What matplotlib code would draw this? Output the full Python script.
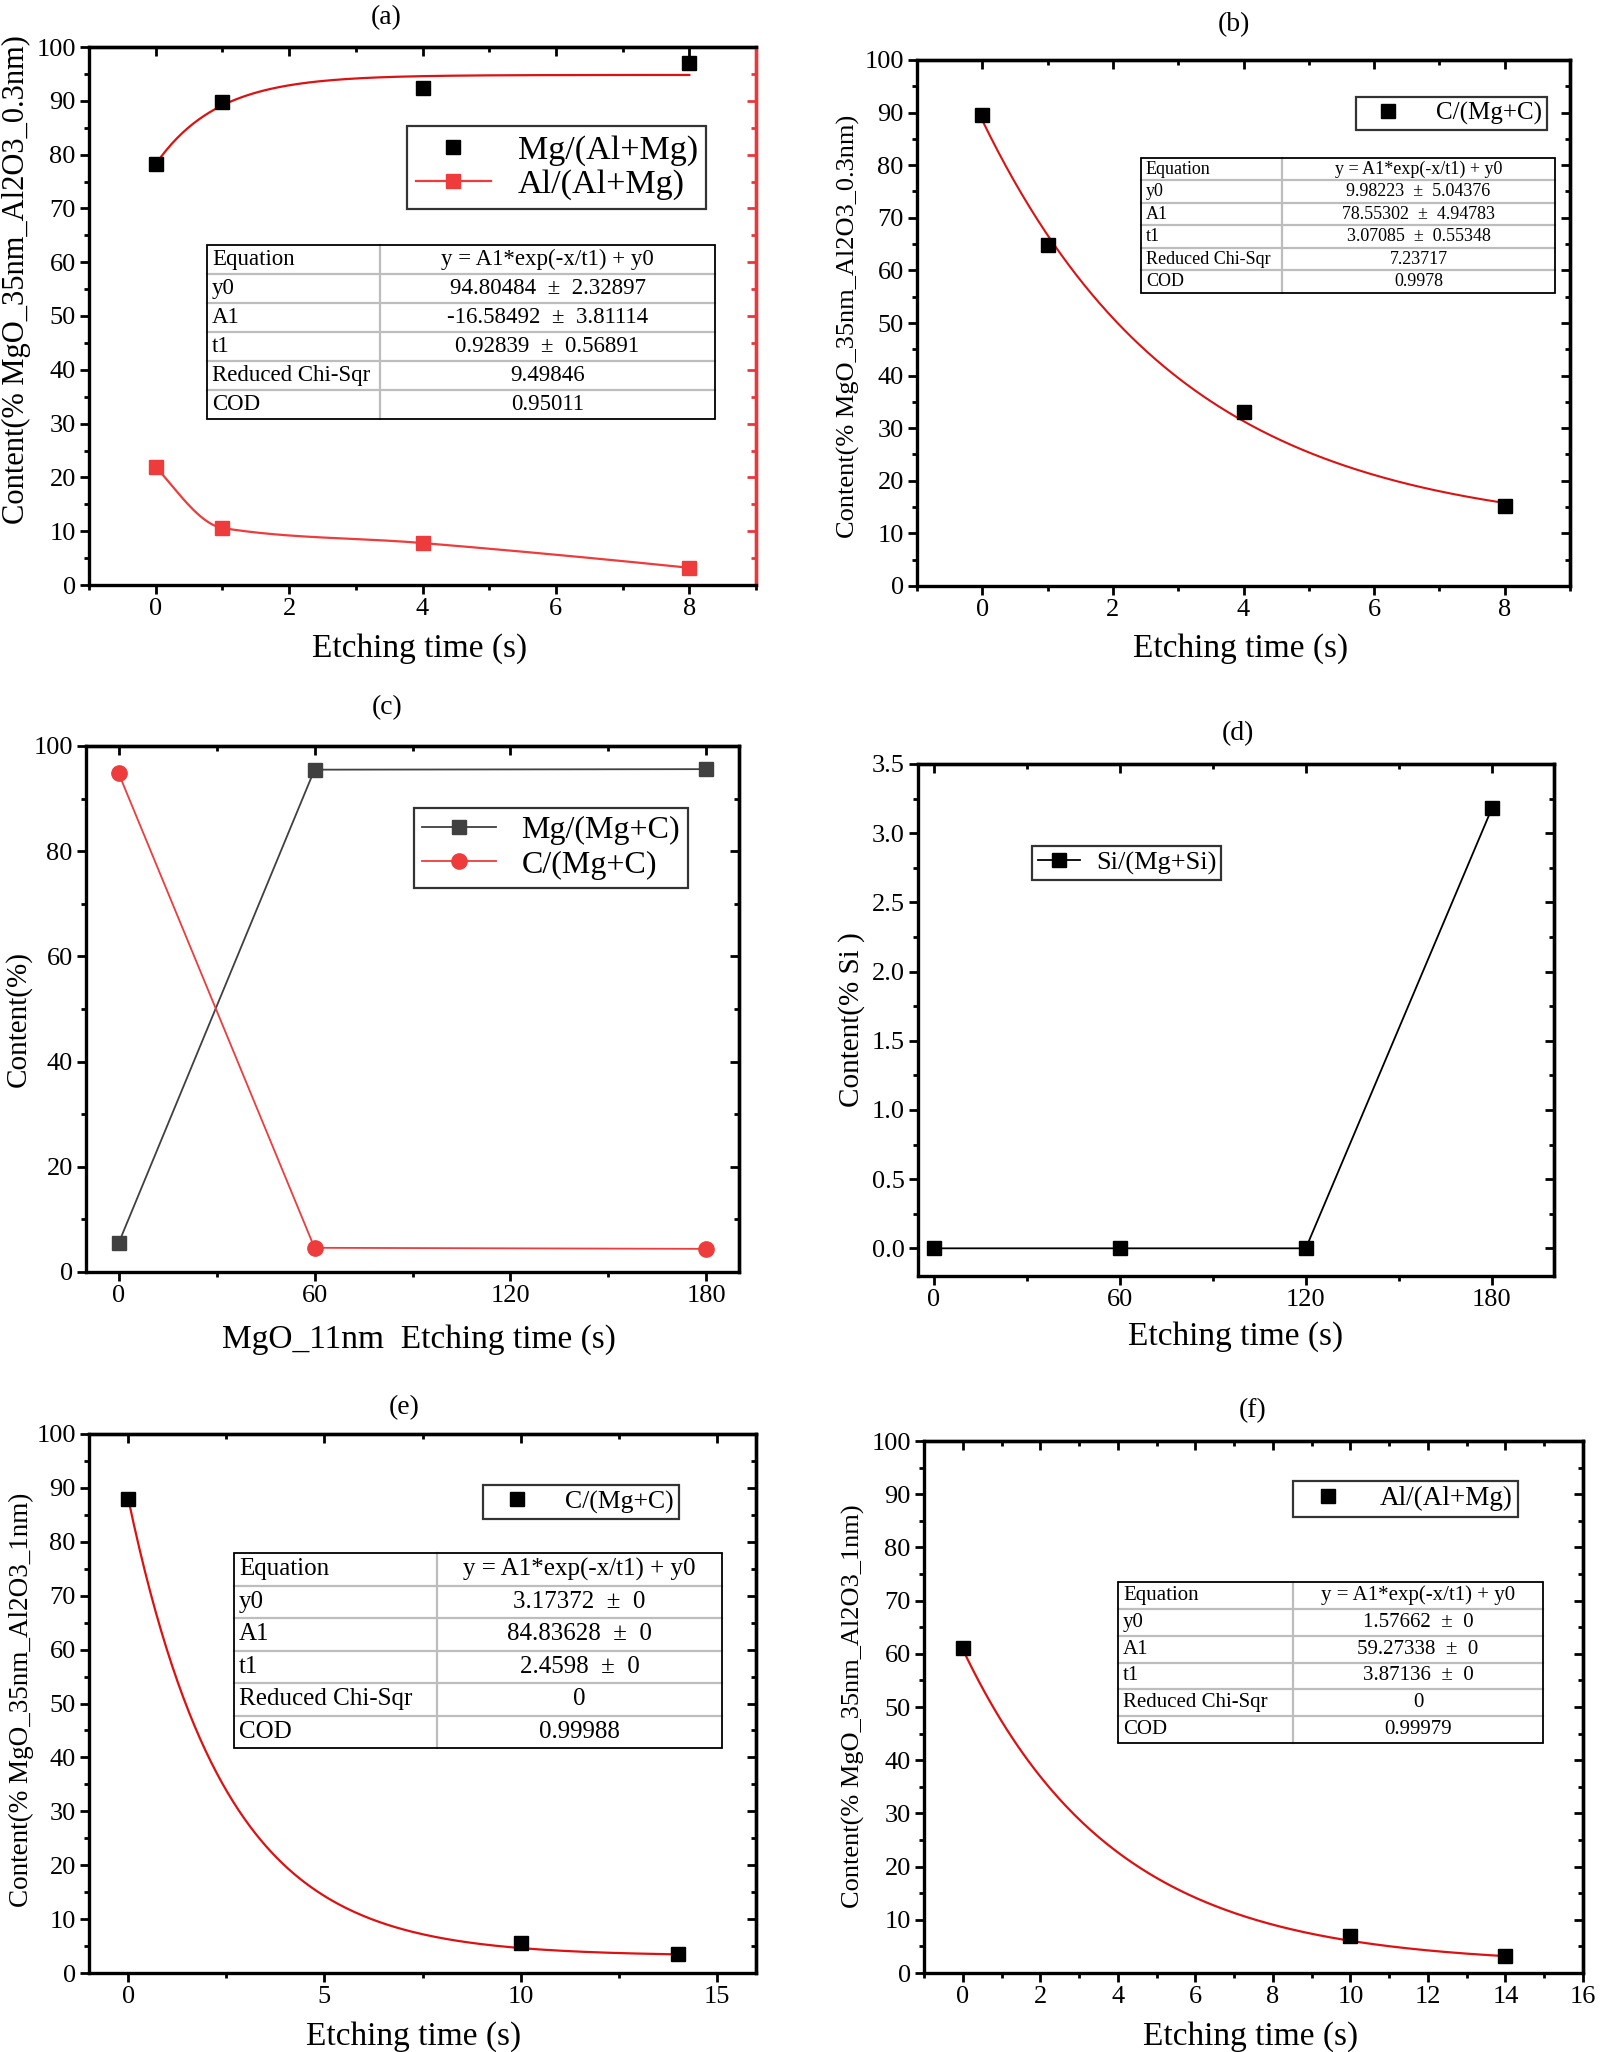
import numpy as np
import matplotlib
matplotlib.use("Agg")
import matplotlib.pyplot as plt
from matplotlib.lines import Line2D
from matplotlib.patches import Rectangle

plt.rcParams['font.family'] = ['Liberation Serif', 'DejaVu Sans']

W, H = 1600, 2052

# ---- data ----
a_x = [0, 1, 4, 8]
a_mg = [78.2, 89.7, 92.4, 97.0]
a_al = [22.0, 10.6, 7.8, 3.2]
a_fit = (94.80484, -16.58492, 0.92839)  # y0, A1, t1
a_rows = [("Equation", "y = A1*exp(-x/t1) + y0"),
          ("y0", "94.80484  ±  2.32897"),
          ("A1", "-16.58492  ±  3.81114"),
          ("t1", "0.92839  ±  0.56891"),
          ("Reduced Chi-Sqr", "9.49846"),
          ("COD", "0.95011")]

b_x = [0, 1, 4, 8]
b_c = [89.6, 64.9, 33.1, 15.2]
b_fit = (9.98223, 78.55302, 3.07085)
b_rows = [("Equation", "y = A1*exp(-x/t1) + y0"),
          ("y0", "9.98223  ±  5.04376"),
          ("A1", "78.55302  ±  4.94783"),
          ("t1", "3.07085  ±  0.55348"),
          ("Reduced Chi-Sqr", "7.23717"),
          ("COD", "0.9978")]

c_x = [0, 60, 180]
c_mg = [5.5, 95.5, 95.6]
c_c = [94.8, 4.6, 4.4]

d_x = [0, 60, 120, 180]
d_si = [0.0, 0.0, 0.0, 3.18]

e_x = [0, 10, 14]
e_c = [87.9, 5.6, 3.6]
e_fit = (3.17372, 84.83628, 2.4598)
e_rows = [("Equation", "y = A1*exp(-x/t1) + y0"),
          ("y0", "3.17372  ±  0"),
          ("A1", "84.83628  ±  0"),
          ("t1", "2.4598  ±  0"),
          ("Reduced Chi-Sqr", "0"),
          ("COD", "0.99988")]

f_x = [0, 10, 14]
f_al = [61.0, 6.9, 3.2]
f_fit = (1.57662, 59.27338, 3.87136)
f_rows = [("Equation", "y = A1*exp(-x/t1) + y0"),
          ("y0", "1.57662  ±  0"),
          ("A1", "59.27338  ±  0"),
          ("t1", "3.87136  ±  0"),
          ("Reduced Chi-Sqr", "0"),
          ("COD", "0.99979")]

RED = '#ee3b3b'
FITRED = '#dd1111'
GRAY = '#404040'


def pchip(x, y, xs):
    x = np.asarray(x, float)
    y = np.asarray(y, float)
    h = np.diff(x)
    d = np.diff(y) / h
    m = np.zeros_like(y)
    for k in range(1, len(x) - 1):
        if d[k - 1] * d[k] > 0:
            w1 = 2 * h[k] + h[k - 1]
            w2 = h[k] + 2 * h[k - 1]
            m[k] = (w1 + w2) / (w1 / d[k - 1] + w2 / d[k])
    m[0] = ((2 * h[0] + h[1]) * d[0] - h[0] * d[1]) / (h[0] + h[1])
    m[-1] = ((2 * h[-1] + h[-2]) * d[-1] - h[-1] * d[-2]) / (h[-1] + h[-2])
    out = np.empty_like(xs)
    for i, xv in enumerate(xs):
        k = min(np.searchsorted(x, xv, side='right') - 1, len(x) - 2)
        t = (xv - x[k]) / h[k]
        h00 = 2 * t**3 - 3 * t**2 + 1
        h10 = t**3 - 2 * t**2 + t
        h01 = -2 * t**3 + 3 * t**2
        h11 = t**3 - t**2
        out[i] = h00 * y[k] + h10 * h[k] * m[k] + h01 * y[k + 1] + h11 * h[k] * m[k + 1]
    return out


fig = plt.figure(figsize=(16, 20.52), dpi=100)


def make_axes(box, xlim, ylim, xmaj, xmin, ymaj, ymin, right_color='black', tsize=19):
    L, R, T, B = box
    ax = fig.add_axes([L / W, 1 - B / H, (R - L) / W, (B - T) / H])
    ax.box_px = box
    ax.set_xlim(*xlim)
    ax.set_ylim(*ylim)
    ax.set_xticks(xmaj)
    ax.set_xticks(xmin, minor=True)
    ax.set_yticks(ymaj)
    ax.set_yticks(ymin, minor=True)
    for s in ax.spines.values():
        s.set_linewidth(2.4)
    ax.tick_params(which='both', direction='out', width=2, labelsize=tsize)
    ax.tick_params(which='major', length=6.5, pad=3)
    ax.tick_params(which='minor', length=3.6)
    sx = ax.secondary_xaxis('top')
    sx.set_xticks(xmaj)
    sx.set_xticks(xmin, minor=True)
    sx.tick_params(which='both', direction='in', width=2, labeltop=False, labelbottom=False)
    sx.tick_params(which='major', length=6.5)
    sx.tick_params(which='minor', length=3.6)
    sx.spines['top'].set_linewidth(2.4)
    sy = ax.secondary_yaxis('right')
    sy.set_yticks(ymaj)
    sy.set_yticks(ymin, minor=True)
    sy.tick_params(which='both', direction='in', width=2, labelright=False, labelleft=False,
                   color=right_color)
    sy.tick_params(which='major', length=6.5)
    sy.tick_params(which='minor', length=3.6)
    sy.spines['right'].set_linewidth(2.4)
    sy.spines['right'].set_color(right_color)
    ax.spines['right'].set_color(right_color)
    return ax


def fig_text(x, y, s, size, **kw):
    fig.text(x / W, 1 - y / H, s, fontsize=size, ha='center', va='center', **kw)


def fit_table(ax, tbox, split, fs, rows):
    L, R, T, B = ax.box_px
    x0, x1, y0, y1 = tbox

    def cx(px):
        return (px - L) / (R - L)

    def cy(py):
        return (B - py) / (B - T)

    n = len(rows)
    rh = (y1 - y0) / n
    ax.add_patch(Rectangle((cx(x0), cy(y1)), cx(x1) - cx(x0), cy(y0) - cy(y1),
                           transform=ax.transAxes, facecolor='white', edgecolor='none', zorder=5))
    for i in range(1, n):
        yy = cy(y0 + i * rh)
        ax.add_line(Line2D([cx(x0), cx(x1)], [yy, yy], transform=ax.transAxes,
                           color='#bdbdbd', lw=1.6, zorder=6))
    ax.add_line(Line2D([cx(split), cx(split)], [cy(y0), cy(y1)], transform=ax.transAxes,
                       color='#bdbdbd', lw=1.6, zorder=6))
    ax.add_patch(Rectangle((cx(x0), cy(y1)), cx(x1) - cx(x0), cy(y0) - cy(y1),
                           transform=ax.transAxes, facecolor='none', edgecolor='black',
                           lw=1.3, zorder=7))
    for i, (k, v) in enumerate(rows):
        yc = cy(y0 + (i + 0.5) * rh)
        ax.text(cx(x0 + 5), yc, k, transform=ax.transAxes, fontsize=fs,
                ha='left', va='center', zorder=8)
        ax.text(cx((split + x1) / 2), yc, v, transform=ax.transAxes, fontsize=fs,
                ha='center', va='center', zorder=8)


def exp_fit(p, x0, x1):
    xs = np.linspace(x0, x1, 200)
    return xs, p[1] * np.exp(-xs / p[2]) + p[0]


leg_kw = dict(frameon=True, fancybox=False, shadow=False, borderaxespad=0,
              loc='upper left', edgecolor='black')

# ---- (a) ----
ax = make_axes((89, 756, 47, 585), (-1, 9), (0, 100),
               [0, 2, 4, 6, 8], [-1, 1, 3, 5, 7, 9],
               np.arange(0, 101, 10), np.arange(5, 100, 10), right_color='#e8383d')
xs, ys = exp_fit(a_fit, 0, 8)
ax.plot(xs, ys, color=FITRED, lw=1.6, zorder=3)
xs = np.linspace(0, 8, 300)
ax.plot(xs, pchip(a_x, a_al, xs), color=RED, lw=1.6, zorder=3)
ax.plot(a_x, a_mg, 's', color='black', ms=9.5, zorder=4)
ax.plot(a_x, a_al, 's', color=RED, ms=9.5, zorder=4)
h1 = Line2D([], [], ls='none', marker='s', color='black', ms=9.5)
h2 = Line2D([], [], color=RED, lw=1.6, marker='s', ms=9.5)
lg = ax.legend([h1, h2], ['Mg/(Al+Mg)', 'Al/(Al+Mg)'], bbox_to_anchor=(0.477, 0.853),
               fontsize=24.5, handlelength=2.2, handletextpad=0.8, borderpad=0.25,
               labelspacing=0.1, **leg_kw)
lg.get_frame().set_linewidth(1.6)
fit_table(ax, (207, 715, 245, 419), 380, 16.5, a_rows)
fig_text(386, 18, '(a)', 20)
fig_text(420, 649, 'Etching time (s)', 24)
fig_text(16, 280, 'Content(% MgO_35nm_Al2O3_0.3nm)', 22, rotation=90)

# ---- (b) ----
ax = make_axes((917, 1570, 60, 586), (-1, 9), (0, 100),
               [0, 2, 4, 6, 8], [-1, 1, 3, 5, 7, 9],
               np.arange(0, 101, 10), np.arange(5, 100, 10))
xs, ys = exp_fit(b_fit, 0, 8)
ax.plot(xs, ys, color=FITRED, lw=1.5, zorder=3)
ax.plot(b_x, b_c, 's', color='black', ms=9.5, zorder=4)
lg = ax.legend([Line2D([], [], ls='none', marker='s', color='black', ms=9.5)], ['C/(Mg+C)'],
               bbox_to_anchor=(0.672, 0.930), fontsize=18, handlelength=2.2,
               handletextpad=0.8, borderpad=0.2, **leg_kw)
lg.get_frame().set_linewidth(1.6)
fit_table(ax, (1141, 1555, 158, 293), 1282, 13, b_rows)
fig_text(1234, 25, '(b)', 20)
fig_text(1241, 649, 'Etching time (s)', 24)
fig_text(848, 326, 'Content(% MgO_35nm_Al2O3_0.3nm)', 19, rotation=90)

# ---- (c) ----
ax = make_axes((86, 739, 746, 1272), (-10, 190), (0, 100),
               [0, 60, 120, 180], [30, 90, 150],
               np.arange(0, 101, 20), np.arange(10, 100, 20))
ax.plot(c_x, c_mg, '-s', color=GRAY, lw=1.3, ms=9.5, zorder=4)
ax.plot(c_x, c_c, '-o', color=RED, lw=1.3, ms=11, zorder=4)
lg = ax.legend(['Mg/(Mg+C)', 'C/(Mg+C)'], bbox_to_anchor=(0.503, 0.882),
               fontsize=23, handlelength=2.3, handletextpad=0.8, borderpad=0.25,
               labelspacing=0.15, **leg_kw)
lg.get_frame().set_linewidth(1.6)
fig_text(387, 708, '(c)', 20)
fig_text(419, 1340, 'MgO_11nm  Etching time (s)', 24)
fig_text(18, 1019, 'Content(%)', 21, rotation=90)

# ---- (d) ----
ax = make_axes((918, 1554, 764, 1276), (-5, 200), (-0.2, 3.5),
               [0, 60, 120, 180], [30, 90, 150],
               np.arange(0, 3.51, 0.5), np.arange(0.25, 3.5, 0.5))
ax.set_yticklabels(['%.1f' % v for v in np.arange(0, 3.51, 0.5)])
ax.plot(d_x, d_si, '-s', color='black', lw=1.3, ms=10, zorder=4)
lg = ax.legend(['Si/(Mg+Si)'], bbox_to_anchor=(0.18, 0.840), fontsize=19,
               handlelength=1.6, handletextpad=0.6, borderpad=0.2, **leg_kw)
lg.get_frame().set_linewidth(1.6)
fig_text(1238, 734, '(d)', 20)
fig_text(1236, 1337, 'Etching time (s)', 24)
fig_text(852, 1020, 'Content(% Si )', 21, rotation=90)

# ---- (e) ----
ax = make_axes((89, 756, 1434, 1973), (-1, 16), (0, 100),
               [0, 5, 10, 15], [2.5, 7.5, 12.5],
               np.arange(0, 101, 10), np.arange(5, 100, 10))
xs, ys = exp_fit(e_fit, 0, 14)
ax.plot(xs, ys, color=FITRED, lw=1.6, zorder=3)
ax.plot(e_x, e_c, 's', color='black', ms=9.5, zorder=4)
lg = ax.legend([Line2D([], [], ls='none', marker='s', color='black', ms=9.5)], ['C/(Mg+C)'],
               bbox_to_anchor=(0.591, 0.905), fontsize=18.5, handlelength=2.2,
               handletextpad=0.8, borderpad=0.2, **leg_kw)
lg.get_frame().set_linewidth(1.6)
fit_table(ax, (234, 722, 1553, 1748), 437, 18, e_rows)
fig_text(404, 1408, '(e)', 20)
fig_text(414, 2037, 'Etching time (s)', 24)
fig_text(21, 1700, 'Content(% MgO_35nm_Al2O3_1nm)', 19.5, rotation=90)

# ---- (f) ----
ax = make_axes((924, 1583, 1441, 1973), (-1, 16), (0, 100),
               np.arange(0, 17, 2), np.arange(-1, 17, 2),
               np.arange(0, 101, 10), np.arange(5, 100, 10))
xs, ys = exp_fit(f_fit, 0, 14)
ax.plot(xs, ys, color=FITRED, lw=1.6, zorder=3)
ax.plot(f_x, f_al, 's', color='black', ms=9.5, zorder=4)
lg = ax.legend([Line2D([], [], ls='none', marker='s', color='black', ms=9.5)], ['Al/(Al+Mg)'],
               bbox_to_anchor=(0.56, 0.925), fontsize=19.5, handlelength=2.2,
               handletextpad=0.8, borderpad=0.2, **leg_kw)
lg.get_frame().set_linewidth(1.6)
fit_table(ax, (1118, 1543, 1582, 1743), 1293, 15, f_rows)
fig_text(1253, 1411, '(f)', 20)
fig_text(1251, 2037, 'Etching time (s)', 24)
fig_text(853, 1706, 'Content(% MgO_35nm_Al2O3_1nm)', 19, rotation=90)

fig.savefig('out.png', dpi=100)
